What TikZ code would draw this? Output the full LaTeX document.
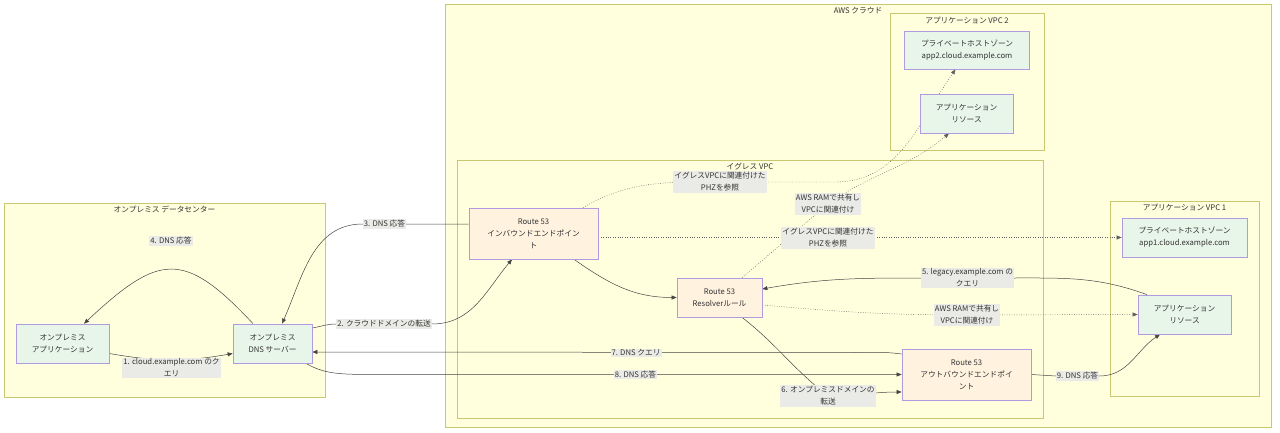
\documentclass[tikz,border=0pt]{standalone}
\usepackage{fontspec}
\setmainfont{Noto Sans CJK JP}
\usetikzlibrary{arrows.meta}
\definecolor{clfill}{HTML}{FFFFDE}
\definecolor{clstroke}{HTML}{C8C870}
\definecolor{gfill}{HTML}{E8F5E9}
\definecolor{ofill}{HTML}{FFF3E0}
\definecolor{nstroke}{HTML}{B09BE0}
\definecolor{txt}{HTML}{333333}
\definecolor{edgec}{HTML}{444444}
\definecolor{lblbg}{HTML}{EAEAE6}
\pgfdeclarelayer{bg}
\pgfdeclarelayer{edges}
\pgfsetlayers{bg,edges,main}
\begin{document}
\begin{tikzpicture}[x=1pt,y=1pt,
  every node/.style={font=\fontsize{7.7}{12}\selectfont, text=txt},
  cluster/.style={draw=clstroke, fill=clfill, line width=0.7pt, inner sep=0pt},
  ctitle/.style={inner sep=0pt},
  gbox/.style={draw=nstroke, fill=gfill, line width=0.7pt, align=center, inner sep=0pt},
  obox/.style={draw=nstroke, fill=ofill, line width=0.7pt, align=center, inner sep=0pt},
  lbl/.style={fill=lblbg, align=center, inner xsep=1pt, inner ysep=1pt},
  edge/.style={draw=edgec, line width=0.5pt, -{Triangle[length=5pt,width=4pt]}},
  dotedge/.style={edge, draw=edgec!85, line width=0.45pt, dash pattern=on 0.8pt off 1.6pt},
]
\useasboundingbox (0,0) rectangle (1280,-433);

% clusters
\begin{pgfonlayer}{bg}
\node[cluster, minimum width=321pt, minimum height=194pt] (onprem) at (164.5,-300) {};
\node[cluster, minimum width=826pt, minimum height=423pt] (aws) at (858,-215.5) {};
\node[cluster, minimum width=154pt, minimum height=137pt] (vpc2) at (967,-81.5) {};
\node[cluster, minimum width=586pt, minimum height=258pt] (egress) at (750,-289) {};
\node[cluster, minimum width=149pt, minimum height=195pt] (vpc1) at (1184.5,-298.5) {};
\node[ctitle] at ([yshift=-7pt]onprem.north) {オンプレミス データセンター};
\node[ctitle] at ([yshift=-6.5pt]aws.north) {AWS クラウド};
\node[ctitle] at ([yshift=-7.5pt]vpc2.north) {アプリケーション VPC 2};
\node[ctitle] at ([yshift=-7pt]egress.north) {イグレス VPC};
\node[ctitle] at ([yshift=-6.8pt]vpc1.north) {アプリケーション VPC 1};
\end{pgfonlayer}

% nodes
\node[gbox, minimum width=93pt, minimum height=39pt] (app) at (62.5,-343.5) {オンプレミス\\アプリケーション};
\node[gbox, minimum width=79pt, minimum height=39pt] (dns) at (272.5,-343.5) {オンプレミス\\DNS サーバー};
\node[obox, minimum width=129pt, minimum height=51pt] (inb) at (533.5,-233.5) {Route 53\\インバウンドエンドポイン\\ト};
\node[obox, minimum width=85pt, minimum height=39pt] (rsv) at (719.5,-297.5) {Route 53\\Resolverルール};
\node[obox, minimum width=129pt, minimum height=51pt] (outb) at (966.5,-374.5) {Route 53\\アウトバウンドエンドポイ\\ント};
\node[gbox, minimum width=125pt, minimum height=38pt] (phz2) at (967,-50) {プライベートホストゾーン\\app2.cloud.example.com};
\node[gbox, minimum width=93pt, minimum height=39pt] (res2) at (966.5,-113.5) {アプリケーション\\リソース};
\node[gbox, minimum width=125pt, minimum height=39pt] (phz1) at (1184.5,-237.5) {プライベートホストゾーン\\app1.cloud.example.com};
\node[gbox, minimum width=93pt, minimum height=39pt] (res1) at (1184.5,-314.5) {アプリケーション\\リソース};

% edge labels
\node[lbl] (l1) at (171.5,-368) {1. cloud.example.com のク\\エリ};
\node[lbl] (l2) at (384,-324) {2. クラウドドメインの転送};
\node[lbl] (l3) at (384.5,-224) {3. DNS 応答};
\node[lbl] (l4) at (171,-241) {4. DNS 応答};
\node[lbl] (l5) at (967.5,-278) {5. legacy.example.com の\\クエリ};
\node[lbl] (l6) at (828,-396) {6. オンプレミスドメインの\\転送};
\node[lbl] (l7) at (636,-353) {7. DNS クエリ};
\node[lbl] (l8) at (635.5,-374.5) {8. DNS 応答};
\node[lbl] (l9) at (1077.5,-376) {9. DNS 応答};
\node[lbl] (ld1) at (828,-238) {イグレスVPCに関連付けた\\PHZを参照};
\node[lbl] (ld2) at (720,-182) {イグレスVPCに関連付けた\\PHZを参照};
\node[lbl] (ld3) at (828,-204) {AWS RAMで共有し\\VPCに関連付け};
\node[lbl] (ld4) at (967,-315) {AWS RAMで共有し\\VPCに関連付け};

% connectors
\begin{pgfonlayer}{edges}
\draw[edge] ([yshift=-10pt]app.east) to[out=-10,in=190] ([yshift=-10pt]dns.west);
\draw[edge] ([yshift=15.5pt]dns.east) to[out=10,in=180] (l2.west) -- (l2.east)
  to[out=0,in=-130] ([xshift=-21.5pt]inb.south);
\draw[edge] ([yshift=9.5pt]inb.west) -- (l3.east) -- (l3.west)
  to[out=180,in=66] ([xshift=9.5pt]dns.north);
\draw[edge] ([xshift=-19.5pt]dns.north) to[out=133,in=43,looseness=1.55] ([xshift=21.5pt]app.north);
\draw[edge] ([xshift=-37.5pt]res1.north) to[out=160,in=0] (l5.east) -- (l5.west)
  to[out=180,in=10] ([yshift=8.5pt]rsv.east);
\draw[edge] ([xshift=22.5pt]rsv.south) to[out=-38,in=142] (l6.center)
  to[out=0,in=180] ([yshift=-17.5pt]outb.west);
\draw[edge] ([yshift=20.5pt]outb.west) .. controls +(-15,2) and +(25,0) .. ++(-45,1.5)
  -- ([yshift=-8.5pt]dns.east);
\draw[edge] ([xshift=33.5pt]dns.south) .. controls +(15,-9) and +(-25,0) .. ++(55,-11)
  -- (outb.west);
\draw[edge] (outb.east) -- (l9.west) -- (l9.east) to[out=0,in=-146] ([xshift=-24.5pt]res1.south);
\draw[edge] ([xshift=40.5pt]inb.south) to[out=-35,in=180] (rsv.west);
\draw[dotedge] ([yshift=-4pt]inb.east) -- (phz1.west);
\draw[dotedge] ([xshift=49.5pt]inb.north) to[out=30,in=180] (ld2.center) -- ++(115,0)
  to[out=0,in=-125] ([xshift=-11.5pt]phz2.south);
\draw[dotedge] ([xshift=22.5pt]rsv.north) to[out=40,in=-140] (ld3.center)
  to[out=35,in=-140] ([xshift=-17.5pt]res2.south);
\draw[dotedge] ([yshift=-7.5pt]rsv.east) to[out=-5,in=180] (ld4.center) -- (res1.west);
\end{pgfonlayer}
\end{tikzpicture}
\end{document}
